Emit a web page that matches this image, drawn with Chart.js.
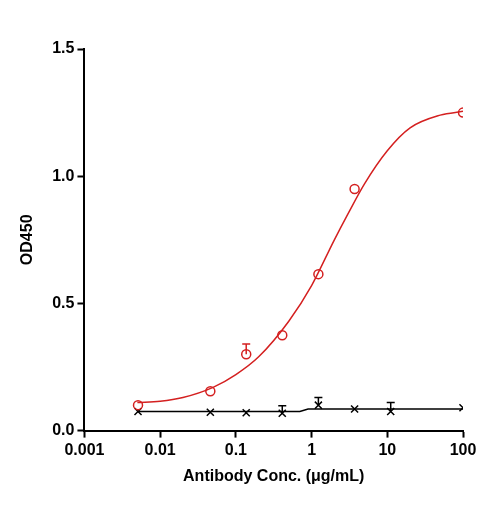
<!DOCTYPE html><html><head><script src="https://cdn.jsdelivr.net/npm/chart.js@4"></script>
<style>body{margin:0;background:#fff}</style></head><body>
<canvas id="c" width="485" height="508"></canvas>
<script>
const redX=[0.0051,0.046,0.137,0.41,1.23,3.7,100];
const redY=[0.10,0.155,0.30,0.375,0.615,0.95,1.25];
const redErr=[null,null,0.04,null,null,null,null];
const blkX=[0.0051,0.046,0.137,0.41,1.23,3.7,11.1,100];
const blkY=[0.075,0.072,0.07,0.068,0.10,0.085,0.075,0.09];
const blkErr=[null,null,null,0.03,0.03,null,0.035,null];
const redFitX=[0.005,0.01,0.02,0.05,0.1,0.2,0.5,1,2,3,5,10,20,50,100];
const redFitY=[0.11,0.115,0.13,0.17,0.22,0.29,0.43,0.57,0.75,0.85,0.97,1.1,1.19,1.24,1.255];
const blkFitX=[0.005,0.7,0.9,100];
const blkFitY=[0.075,0.075,0.085,0.085];
const xTicks=[0.001,0.01,0.1,1,10,100];
const pts=(xs,ys)=>xs.map((x,i)=>({x,y:ys[i]}));
const errPlugin={id:'err',afterDatasetsDraw(ch){const c=ch.ctx,xs=ch.scales.x,ys=ch.scales.y;
[[redX,redY,redErr,'#d42020'],[blkX,blkY,blkErr,'#000']].forEach(([X,Y,E,col])=>{
c.save();c.strokeStyle=col;c.lineWidth=1.5;X.forEach((x,i)=>{if(E[i]==null)return;
const px=xs.getPixelForValue(x),p0=ys.getPixelForValue(Y[i]),p1=ys.getPixelForValue(Y[i]+E[i]);
c.beginPath();c.moveTo(px,p0);c.lineTo(px,p1);c.moveTo(px-4,p1);c.lineTo(px+4,p1);c.stroke();});c.restore();});}};
const F="'Liberation Sans', Arial, sans-serif";
const grid={display:true,drawOnChartArea:false,drawTicks:true,tickLength:7,tickColor:'#000',tickWidth:2};
new Chart(document.getElementById('c'),{type:'scatter',plugins:[errPlugin],
data:{datasets:[
{data:pts(redFitX,redFitY),showLine:true,borderColor:'#d42020',borderWidth:1.5,pointRadius:0,cubicInterpolationMode:'monotone'},
{data:pts(blkFitX,blkFitY),showLine:true,borderColor:'#000',borderWidth:1.5,pointRadius:0},
{data:pts(redX,redY),pointStyle:'circle',pointRadius:4.5,borderColor:'#d42020',borderWidth:1.5,backgroundColor:'rgba(0,0,0,0)'},
{data:pts(blkX,blkY),pointStyle:'crossRot',pointRadius:5,borderColor:'#000',borderWidth:1.5}]},
options:{responsive:false,animation:false,layout:{padding:{top:49,right:22,left:14,bottom:18}},
plugins:{legend:{display:false},tooltip:{enabled:false}},
scales:{x:{type:'logarithmic',min:0.001,max:100,afterBuildTicks:a=>{a.ticks=xTicks.map(v=>({value:v}))},
grid,border:{color:'#000',width:2},
ticks:{color:'#000',font:{family:F,size:16,weight:'bold'},maxRotation:0,callback:v=>String(v)},
title:{display:true,text:'Antibody Conc. (μg/mL)',color:'#000',font:{family:F,size:16,weight:'bold'},padding:{top:4}}},
y:{min:0,max:1.5,ticks:{stepSize:0.5,color:'#000',font:{family:F,size:16,weight:'bold'},callback:v=>v.toFixed(1)},
grid,border:{color:'#000',width:2},
title:{display:true,text:'OD450',color:'#000',font:{family:F,size:16,weight:'bold'},padding:{bottom:12}}}}}});
</script></body></html>
